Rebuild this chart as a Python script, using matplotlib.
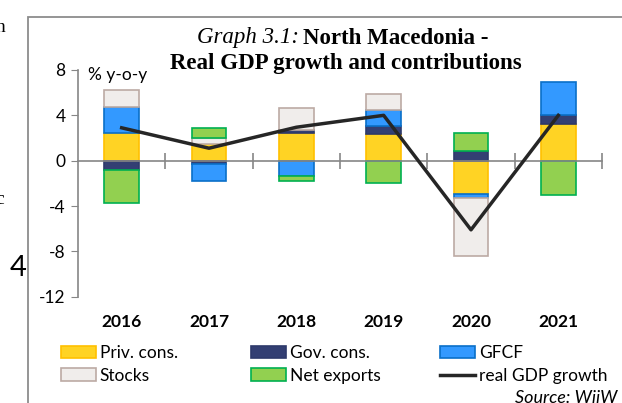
import numpy as np
import matplotlib.pyplot as plt
import matplotlib.patches as mpatches
import matplotlib.transforms as mtransforms

plt.rcParams["font.family"] = ["Lato", "DejaVu Sans"]

years = ["2016", "2017", "2018", "2019", "2020", "2021"]
priv_cons = [2.45, 1.5, 2.4, 2.35, -2.9, 3.25]
gov_cons = [-0.8, -0.3, 0.35, 0.75, 0.85, 0.75]
gfcf = [2.3, -1.45, -1.35, 1.35, -0.35, 2.95]
stocks = [1.5, 0.5, 1.9, 1.45, -5.2, 0.0]
net_exports = [-2.9, 0.9, -0.4, -2.0, 1.6, -3.0]
gdp = [2.9, 1.1, 2.95, 4.0, -6.1, 4.0]

series = [
    ("Priv. cons.", priv_cons, "#FFD324", "#FFC000"),
    ("Gov. cons.", gov_cons, "#333F73", "#2E3A6B"),
    ("GFCF", gfcf, "#3399FF", "#0A70C8"),
    ("Stocks", stocks, "#F0EDEB", "#BCAAA4"),
    ("Net exports", net_exports, "#92D050", "#00B050"),
]

W, H = 622, 403


def fx(px):
    return px / W


def fy(py):
    return 1 - py / H


fig = plt.figure(figsize=(W / 100, H / 100), dpi=100)
ax = fig.add_axes([78 / W, 1 - 296.7 / H, 524 / W, 226.7 / H])

x = np.arange(len(years))
pos_base = np.zeros(len(years))
neg_base = np.zeros(len(years))
handles = {}
for name, vals, fc, ec in series:
    vals = np.array(vals)
    base = np.where(vals >= 0, pos_base, neg_base)
    heights = np.where(vals == 0, np.nan, vals)  # no outline for empty segments
    b = ax.bar(x, heights, width=0.4, bottom=base, color=fc, edgecolor=ec,
               linewidth=1.2, label=name, zorder=2)
    handles[name] = b
    pos_base += np.where(vals >= 0, vals, 0)
    neg_base += np.where(vals < 0, vals, 0)

line, = ax.plot(x, gdp, color="#262626", lw=2.5, zorder=4, label="real GDP growth")

ax.set_xlim(-0.5, 5.5)
ax.set_ylim(-12, 8)
ax.set_yticks([8, 4, 0, -4, -8, -12])
ax.set_yticklabels(["8", "4", "0", "-4", "-8", "-12"])
ax.tick_params(axis="y", direction="out", length=5, color="#868686",
               labelsize=12.5, pad=4)
for s in ["top", "right"]:
    ax.spines[s].set_visible(False)
ax.spines["left"].set_color("#868686")
ax.spines["left"].set_linewidth(1.2)
ax.spines["bottom"].set_position(("data", 0))
ax.spines["bottom"].set_color("#868686")
ax.spines["bottom"].set_linewidth(1.2)
ax.spines["bottom"].set_zorder(3)
ax.set_xticks(x + 0.5)
ax.set_xticklabels([])
ax.tick_params(axis="x", direction="inout", length=12, color="#868686", width=1.2)

tr = mtransforms.blended_transform_factory(ax.transData, ax.transAxes)
for xi, yr in zip(x, years):
    ax.text(xi, -0.11, yr, transform=tr, ha="center", va="center",
            fontsize=12.5, fontweight="bold")

fig.text(fx(88), fy(75), "% y-o-y", fontsize=12.5, va="center")

fig.text(fx(299), fy(38), "Graph 3.1:", fontsize=16.5, family="Liberation Serif",
         style="italic", ha="right", va="center")
fig.text(fx(303), fy(38), "North Macedonia -", fontsize=16.5, family="Liberation Serif",
         fontweight="bold", ha="left", va="center")
fig.text(fx(346), fy(63), "Real GDP growth and contributions", fontsize=16.5,
         family="Liberation Serif", fontweight="bold", ha="center", va="center")

legend_cols = [
    (61, ["Priv. cons.", "Stocks"]),
    (251, ["Gov. cons.", "Net exports"]),
    (440, ["GFCF", "real GDP growth"]),
]
for px, names in legend_cols:
    hs = [line if n == "real GDP growth" else handles[n] for n in names]
    fig.legend(hs, names, loc="upper left", bbox_to_anchor=(fx(px), fy(345)),
               frameon=False, fontsize=12.5, handlelength=2.0, handleheight=0.7,
               handletextpad=0.23, labelspacing=0.38, borderpad=0, borderaxespad=0)

fig.text(fx(617), fy(390), "Source: WiiW", fontsize=13, style="italic",
         ha="right", va="top")

# frame around the chart
fig.patches.append(mpatches.Rectangle((fx(27.5), -0.1), 1.2, fy(16.5) + 0.1,
                                      transform=fig.transFigure, fill=False,
                                      edgecolor="#8C8C8C", linewidth=1.3))

# fragments of surrounding page text
fig.text(fx(-4), fy(28), "n", fontsize=14, family="Liberation Serif", va="center")
fig.text(fx(-5), fy(200), "c", fontsize=14, family="Liberation Serif", va="center")
fig.text(fx(10), fy(268), "4", fontsize=21, va="center")

fig.savefig("out.png", dpi=100)
